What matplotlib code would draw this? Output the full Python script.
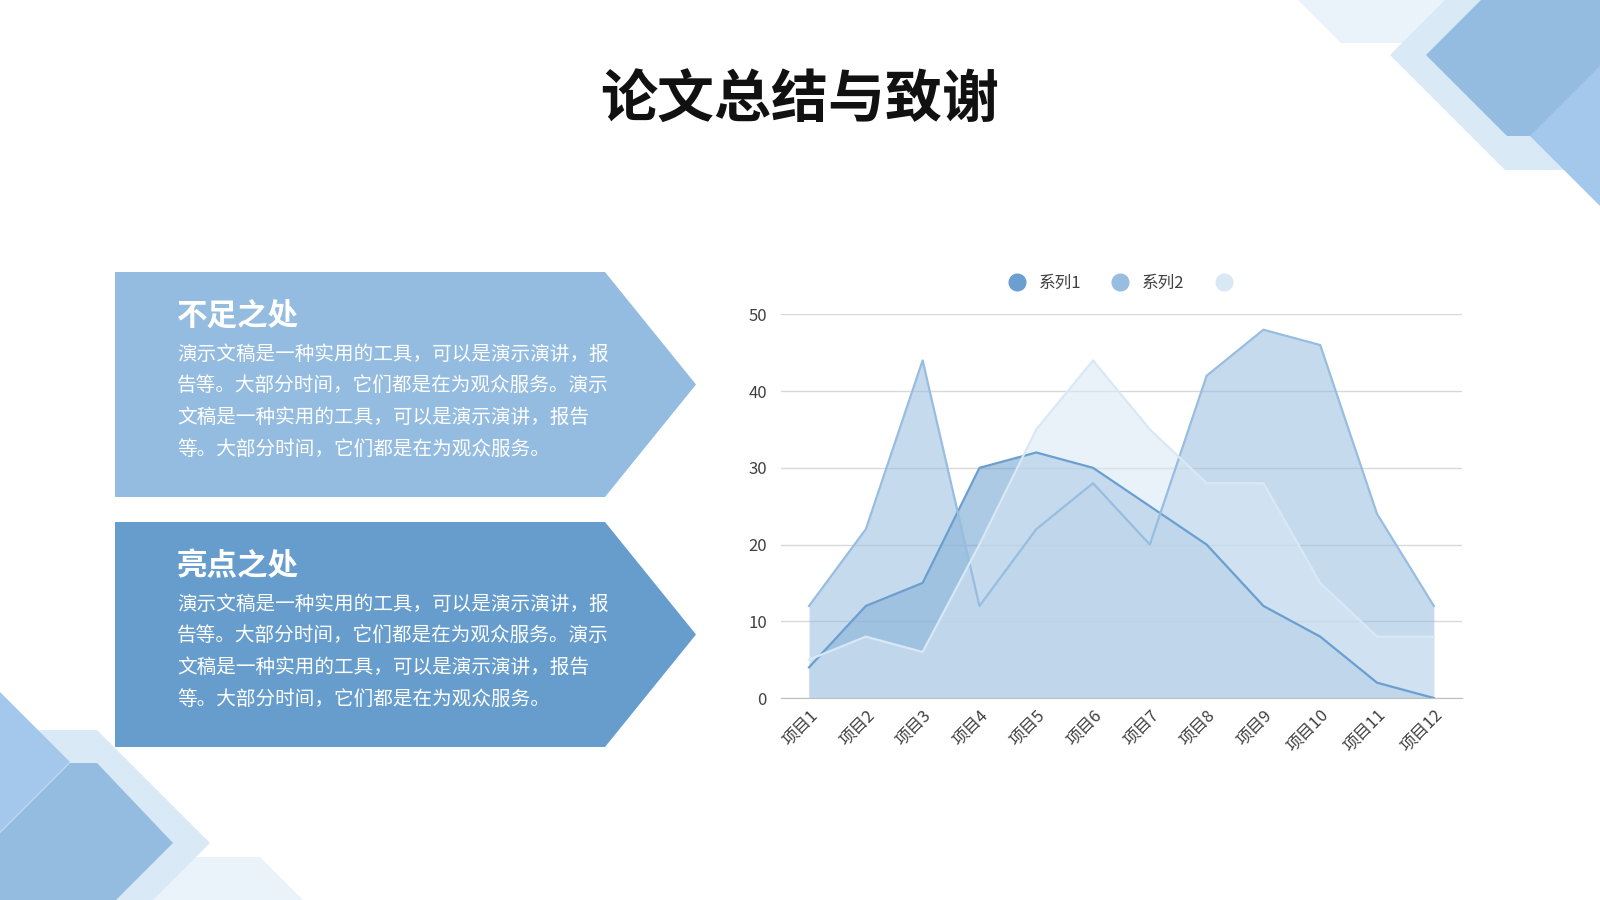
import matplotlib.pyplot as plt
from matplotlib.patches import Polygon
from matplotlib.lines import Line2D
import numpy as np

plt.rcParams['font.family'] = ['Noto Sans CJK SC', 'DejaVu Sans']
plt.rcParams['axes.unicode_minus'] = False

# 数据
categories = ['项目1', '项目2', '项目3', '项目4', '项目5', '项目6',
              '项目7', '项目8', '项目9', '项目10', '项目11', '项目12']
series1 = [4, 12, 15, 30, 32, 30, 25, 20, 12, 8, 2, 0]
series2 = [12, 22, 44, 12, 22, 28, 20, 42, 48, 46, 24, 12]
series3 = [5, 8, 6, 20, 35, 44, 35, 28, 28, 15, 8, 8]
series_names = ['系列1', '系列2', '']
yticks = [0, 10, 20, 30, 40, 50]

title = '论文总结与致谢'
panel_titles = ['不足之处', '亮点之处']
body_lines = ['演示文稿是一种实用的工具，可以是演示演讲，报',
              '告等。大部分时间，它们都是在为观众服务。演示',
              '文稿是一种实用的工具，可以是演示演讲，报告',
              '等。大部分时间，它们都是在为观众服务。']

colors = ['#6a9fcf', '#97bde0', '#d9e8f5']

fig = plt.figure(figsize=(16, 9), dpi=100)

# 背景层（像素坐标）
bg = fig.add_axes([0, 0, 1, 1])
bg.set_xlim(0, 1600)
bg.set_ylim(900, 0)
bg.axis('off')

# 右上角装饰
bg.add_patch(Polygon([(1298, 0), (1341, 43), (1470, 43), (1513, 0)], color='#ebf3fa', lw=0))
bg.add_patch(Polygon([(1390, 55), (1445, 0), (1600, 0), (1600, 170), (1505, 170)], color='#dae9f6', lw=0))
bg.add_patch(Polygon([(1426, 55), (1481, 0), (1600, 0), (1600, 136), (1507, 136)], color='#94bce0', lw=0))
bg.add_patch(Polygon([(1530, 136), (1600, 66), (1600, 206)], color='#a3c8eb', lw=0))

# 左下角装饰
bg.add_patch(Polygon([(170, 857), (260, 857), (303, 900), (127, 900)], color='#ebf3fa', lw=0))
bg.add_patch(Polygon([(0, 730), (97, 730), (210, 843), (153, 900), (0, 900)], color='#dae9f6', lw=0))
bg.add_patch(Polygon([(0, 692), (70, 762), (0, 832)], color='#a3c8eb', lw=0))
bg.add_patch(Polygon([(0, 833), (70, 763), (97, 763), (173, 843), (116, 900), (0, 900)], color='#94bce0', lw=0))

# 标题
bg.text(800, 100, title, ha='center', va='center', fontsize=41,
        fontweight='black', color='#111111')

# 左侧两个箭头框
panel_colors = ['#94bce0', '#669dcd']
panel_tops = [272, 522]
for k in range(2):
    top = panel_tops[k]
    bot = top + 225
    mid = (top + bot) / 2
    bg.add_patch(Polygon([(115, top), (605, top), (696, mid), (605, bot), (115, bot)],
                         color=panel_colors[k], lw=0))
    bg.text(177, top + 44, panel_titles[k], ha='left', va='center', fontsize=22,
            fontweight='bold', color='white')
    for i, line in enumerate(body_lines):
        bg.text(177, top + 82 + i * 31.7, line, ha='left', va='center',
                fontsize=14.1, color='white')

# 面积图
ax = fig.add_axes([0.4879, 0.2244, 0.426, 0.4263])
ax.set_facecolor('none')
x = np.arange(len(categories))
for vals, c in zip([series1, series2, series3], colors):
    ax.fill_between(x, vals, 0, color=c, alpha=0.55, lw=0)
    ax.plot(x, vals, color=c, lw=1.6)

ax.set_xlim(-0.5, 11.5)
ax.set_ylim(0, 50)
ax.set_yticks(yticks)
ax.set_xticks(x)
ax.set_xticklabels(categories, rotation=45, ha='right', va='top',
                   rotation_mode='anchor')
ax.tick_params(axis='both', length=0, labelsize=12, labelcolor='#404040')
ax.tick_params(axis='x', pad=6)
ax.tick_params(axis='y', pad=10)
ax.grid(axis='y', color='#d9d9d9', lw=1)
ax.set_axisbelow(True)
for s in ['top', 'right', 'left']:
    ax.spines[s].set_visible(False)
ax.spines['bottom'].set_color('#bfbfbf')

handles = [Line2D([], [], marker='o', linestyle='', markersize=12,
                  markerfacecolor=c, markeredgecolor=c) for c in colors]
ax.legend(handles, series_names, loc='center', bbox_to_anchor=(0.502, 1.08),
          ncol=3, frameon=False, fontsize=12, handletextpad=0.3,
          columnspacing=1.35, labelcolor='#404040')

fig.savefig('out.png', dpi=100)
